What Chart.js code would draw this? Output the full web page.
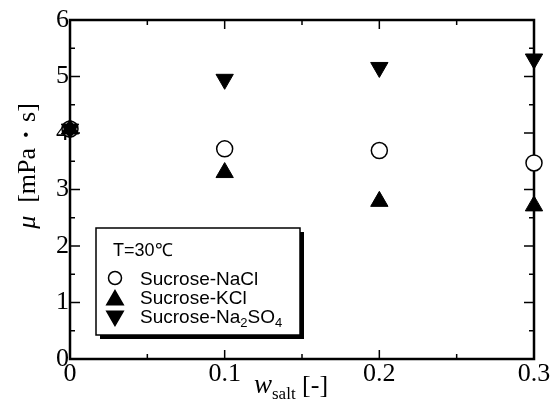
<!DOCTYPE html>
<html>
<head>
<meta charset="utf-8">
<title>Viscosity vs salt fraction</title>
<style>
  html, body { margin: 0; padding: 0; background: #fff; }
  #wrap { width: 556px; height: 412px; }
</style>
</head>
<body>
<div id="wrap"><canvas id="chart" width="556" height="412"></canvas></div>
<script src="https://cdn.jsdelivr.net/npm/chart.js@4"></script>
<script>
// data
const saltFrac = [0, 0.1, 0.2, 0.3];
const muNaCl = [4.07, 3.72, 3.69, 3.47];
const muKCl = [4.07, 3.30, 2.79, 2.71];
const muNa2SO4 = [4.07, 4.95, 5.16, 5.31];

const xTicks = [0, 0.1, 0.2, 0.3];
const xMinor = [0.05, 0.15, 0.25];
const yTicks = [0, 1, 2, 3, 4, 5, 6];
const yMinor = [0.5, 1.5, 2.5, 3.5, 4.5, 5.5];

const SERIF = '"Liberation Serif", "Times New Roman", serif';
const SANS = '"Liberation Sans", Arial, sans-serif';

function pts(ys) {
  return saltFrac.map((x, i) => ({ x: x, y: ys[i] }));
}

// draws text pieces one after another (for italics and subscripts)
function richText(ctx, parts, x, y) {
  parts.forEach(p => {
    ctx.font = p.font;
    ctx.fillText(p.t, x, y + (p.dy || 0));
    x += ctx.measureText(p.t).width;
  });
}
function richWidth(ctx, parts) {
  let w = 0;
  parts.forEach(p => { ctx.font = p.font; w += ctx.measureText(p.t).width; });
  return w;
}

function marker(ctx, style, x, y, r, rot, fill) {
  ctx.save();
  ctx.fillStyle = fill;
  ctx.strokeStyle = '#000';
  ctx.lineWidth = 1.5;
  Chart.helpers.drawPoint(ctx, { pointStyle: style, radius: r, rotation: rot, borderWidth: 1.5 }, x, y);
  ctx.restore();
}

const framePlugin = {
  id: 'frame',
  beforeDatasetsDraw(chart) {
    const { ctx, chartArea: a, scales: { x, y } } = chart;
    ctx.save();
    ctx.strokeStyle = '#000';
    ctx.lineWidth = 1.5;
    const line = (x1, y1, x2, y2) => { ctx.beginPath(); ctx.moveTo(x1, y1); ctx.lineTo(x2, y2); ctx.stroke(); };
    xTicks.forEach(v => { const p = x.getPixelForValue(v); line(p, a.bottom, p, a.bottom - 9); line(p, a.top, p, a.top + 9); });
    xMinor.forEach(v => { const p = x.getPixelForValue(v); line(p, a.bottom, p, a.bottom - 5); line(p, a.top, p, a.top + 5); });
    yTicks.forEach(v => { const p = y.getPixelForValue(v); line(a.left, p, a.left + 10, p); line(a.right, p, a.right - 10, p); });
    yMinor.forEach(v => { const p = y.getPixelForValue(v); line(a.left, p, a.left + 5, p); line(a.right, p, a.right - 5, p); });
    ctx.lineWidth = 2.5;
    ctx.strokeRect(a.left, a.top, a.right - a.left, a.bottom - a.top);
    ctx.restore();
  },
  afterDraw(chart) {
    const { ctx } = chart;
    ctx.save();
    ctx.fillStyle = '#000';
    ctx.textBaseline = 'alphabetic';
    ctx.textAlign = 'left';

    // x axis title
    richText(ctx, [
      { t: 'w', font: 'italic 27px ' + SERIF },
      { t: 'salt', font: '17px ' + SERIF, dy: 6 },
      { t: ' [-]', font: '26px ' + SERIF }
    ], 254, 393);

    // y axis title, rotated
    const yParts = [
      { t: '\u03bc', font: 'italic 26px ' + SERIF },
      { t: '  [mPa\u30fbs]', font: '26px ' + SERIF }
    ];
    ctx.save();
    ctx.translate(26, 166);
    ctx.rotate(-Math.PI / 2);
    richText(ctx, yParts, -richWidth(ctx, yParts) / 2, 9);
    ctx.restore();

    // legend box with drop shadow
    const bx = 96, by = 228, bw = 204, bh = 107;
    ctx.fillRect(bx + 4, by + 4, bw, bh);
    ctx.fillStyle = '#fff';
    ctx.fillRect(bx, by, bw, bh);
    ctx.strokeStyle = '#000';
    ctx.lineWidth = 1.5;
    ctx.strokeRect(bx, by, bw, bh);
    ctx.fillStyle = '#000';
    richText(ctx, [{ t: 'T=30\u2103', font: '18px ' + SANS }], 113, 256);

    const f = '19px ' + SANS;
    marker(ctx, 'circle', 115, 278, 6.5, 0, '#fff');
    ctx.fillStyle = '#000';
    richText(ctx, [{ t: 'Sucrose-NaCl', font: f }], 140, 285);
    marker(ctx, 'triangle', 115, 300, 9.5, 0, '#000');
    ctx.fillStyle = '#000';
    richText(ctx, [{ t: 'Sucrose-KCl', font: f }], 140, 304);
    marker(ctx, 'triangle', 115, 316, 9.5, 180, '#000');
    ctx.fillStyle = '#000';
    richText(ctx, [
      { t: 'Sucrose-Na', font: f },
      { t: '2', font: '13px ' + SANS, dy: 4 },
      { t: 'SO', font: f },
      { t: '4', font: '13px ' + SANS, dy: 4 }
    ], 140, 323);
    ctx.restore();
  }
};

new Chart(document.getElementById('chart'), {
  type: 'scatter',
  data: {
    datasets: [
      {
        label: 'Sucrose-NaCl',
        data: pts(muNaCl),
        pointStyle: 'circle',
        pointRadius: 8,
        pointBackgroundColor: '#fff',
        pointBorderColor: '#000',
        pointBorderWidth: 1.5,
        clip: false,
        order: 3
      },
      {
        label: 'Sucrose-KCl',
        data: pts(muKCl),
        pointStyle: 'triangle',
        pointRadius: 10,
        pointBackgroundColor: '#000',
        pointBorderColor: '#000',
        pointBorderWidth: 1,
        clip: false,
        order: 2
      },
      {
        label: 'Sucrose-Na2SO4',
        data: pts(muNa2SO4),
        pointStyle: 'triangle',
        pointRotation: 180,
        pointRadius: 10,
        pointBackgroundColor: '#000',
        pointBorderColor: '#000',
        pointBorderWidth: 1,
        clip: false,
        order: 1
      }
    ]
  },
  options: {
    responsive: false,
    animation: false,
    layout: { padding: { top: 20, right: 22, left: 0, bottom: 0 } },
    plugins: {
      legend: { display: false },
      tooltip: { enabled: false }
    },
    scales: {
      x: {
        type: 'linear',
        min: 0,
        max: 0.3,
        afterBuildTicks: s => { s.ticks = xTicks.map(v => ({ value: v })); },
        afterFit: s => { s.height = 53; },
        grid: { display: false, drawTicks: false },
        border: { display: false },
        ticks: {
          color: '#000',
          padding: 0,
          maxRotation: 0,
          autoSkip: false,
          font: { family: SERIF, size: 26 },
          callback: v => (v === 0 ? '0' : v.toFixed(1))
        }
      },
      y: {
        min: 0,
        max: 6,
        afterBuildTicks: s => { s.ticks = yTicks.map(v => ({ value: v })); },
        afterFit: s => { s.width = 70; },
        grid: { display: false, drawTicks: false },
        border: { display: false },
        ticks: {
          color: '#000',
          padding: 1,
          autoSkip: false,
          font: { family: SERIF, size: 26 },
          callback: v => String(v)
        }
      }
    }
  },
  plugins: [framePlugin]
});
</script>
</body>
</html>
